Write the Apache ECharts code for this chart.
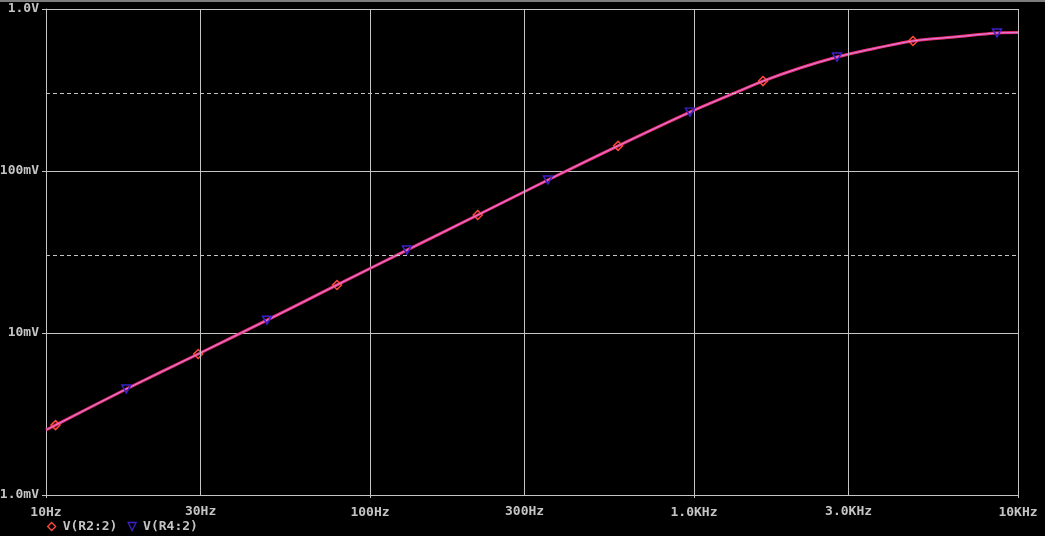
<!DOCTYPE html>
<html>
<head>
<meta charset="utf-8">
<script src="https://cdn.jsdelivr.net/npm/echarts@6/dist/echarts.min.js"></script>
<style>
html,body{margin:0;padding:0;background:#000;}
#chart{width:1045px;height:536px;}
</style>
</head>
<body>
<div id="chart"></div>
<script>
// Frequency (Hz) of the read curve points
const freqs = [10, 10.7, 17.7, 29.5, 48.1, 79.1, 130, 215, 354, 583, 972, 1319, 1633, 2124, 2763, 3420, 4741, 6482, 8615, 10000];
// Voltage (V) of the curve (both traces overlap)
const volts = [0.00252, 0.00270, 0.00451, 0.00742, 0.0120, 0.0198, 0.0325, 0.0535, 0.0880, 0.143, 0.231, 0.300, 0.359, 0.432, 0.505, 0.558, 0.635, 0.674, 0.711, 0.715];
// Which trace draws a marker at each point
const markers = ['', 'R2', 'R4', 'R2', 'R4', 'R2', 'R4', 'R2', 'R4', 'R2', 'R4', '', 'R2', '', 'R4', '', 'R2', '', 'R4', ''];

const seriesNames = ['V(R2:2)', 'V(R4:2)'];
const xTickValues = [10, 30, 100, 300, 1000, 3000, 10000];
const xTickLabels = ['10Hz', '30Hz', '100Hz', '300Hz', '1.0KHz', '3.0KHz', '10KHz'];
const yTickValues = [0.001, 0.01, 0.1, 1];
const yTickLabels = ['1.0mV', '10mV', '100mV', '1.0V'];
const yDashValues = [0.003, 0.03, 0.3];

const GRAY = '#c4c4c4';
const FONT = 'DejaVu Sans Mono';
const FS = 13;
const RED = '#ff4a3a';
const BLUE = '#3a22c8';

function labelFor(values, labels, v) {
  let best = 0, bd = Infinity;
  for (let i = 0; i < values.length; i++) {
    const d = Math.abs(Math.log10(values[i]) - Math.log10(v));
    if (d < bd) { bd = d; best = i; }
  }
  return bd < 0.01 ? labels[best] : '';
}

function buildData(key) {
  return freqs.map((f, i) => {
    const item = { value: [f, volts[i]] };
    if (markers[i] !== key) item.symbol = 'none';
    return item;
  });
}

const xDecades = xTickValues.filter(v => Math.abs(Math.log10(v) - Math.round(Math.log10(v))) > 0.01);

const chart = echarts.init(document.getElementById('chart'), null, { renderer: 'canvas' });
chart.setOption({
  backgroundColor: '#000',
  animation: false,
  graphic: [{ type: 'rect', left: 0, top: 0, shape: { width: 1045, height: 2 }, style: { fill: '#7c7c7c' } }],
  grid: { left: 46, right: 27, top: 9, bottom: 41, containLabel: false, outerBoundsMode: 'none' },
  legend: {
    left: 47, top: 520, padding: 0,
    itemWidth: 8, itemHeight: 8, itemGap: 10,
    textStyle: { color: GRAY, fontFamily: FONT, fontSize: FS, fontWeight: 'bold', padding: [0, 0, 0, 2] },
    data: [
      { name: seriesNames[0], icon: 'diamond', itemStyle: { color: 'rgba(0,0,0,0)', borderColor: RED, borderWidth: 1.3 } },
      { name: seriesNames[1], icon: 'path://M0,0L10,0L5,10Z', itemStyle: { color: 'rgba(0,0,0,0)', borderColor: BLUE, borderWidth: 1.3 } }
    ]
  },
  xAxis: {
    type: 'log', logBase: 10, min: 10, max: 10000,
    axisLine: { show: true, lineStyle: { color: GRAY, width: 1 } },
    axisTick: { show: true, length: 3, lineStyle: { color: GRAY } },
    axisLabel: { color: GRAY, fontFamily: FONT, fontSize: FS, fontWeight: 'bold', margin: 11,
      formatter: v => labelFor(xTickValues, xTickLabels, v) },
    splitLine: { show: true, lineStyle: { color: GRAY, width: 1 } },
    minorTick: { show: false }, minorSplitLine: { show: false }
  },
  yAxis: {
    type: 'log', logBase: 10, min: 0.001, max: 1,
    axisLine: { show: true, lineStyle: { color: GRAY, width: 1 } },
    axisTick: { show: true, length: 4, lineStyle: { color: GRAY } },
    axisLabel: { color: GRAY, fontFamily: FONT, fontSize: FS, fontWeight: 'bold', margin: 7,
      formatter: v => labelFor(yTickValues, yTickLabels, v) },
    splitLine: { show: true, lineStyle: { color: GRAY, width: 1 } }
  },
  series: [
    {
      name: seriesNames[0], type: 'line', smooth: 0.3,
      data: buildData('R2'),
      symbol: 'diamond', symbolSize: 9,
      itemStyle: { color: 'rgba(0,0,0,0)', borderColor: RED, borderWidth: 1.5 },
      lineStyle: { color: '#ee3272', width: 3 },
      z: 3,
      markLine: {
        silent: true, symbol: 'none', animation: false,
        data: xDecades.map(v => ({
          xAxis: v,
          lineStyle: { color: GRAY, width: 1, type: 'solid' },
          label: { show: true, position: 'start', distance: 10, color: GRAY, fontFamily: FONT, fontSize: FS, fontWeight: 'bold',
            formatter: labelFor(xTickValues, xTickLabels, v) }
        })).concat(yDashValues.map(v => ({
          yAxis: v,
          lineStyle: { color: GRAY, width: 1, type: [4, 3] },
          label: { show: false }
        })))
      }
    },
    {
      name: seriesNames[1], type: 'line', smooth: 0.3,
      data: buildData('R4'),
      symbol: 'path://M0,0L10,0L5,10Z', symbolSize: [9, 8],
      itemStyle: { color: 'rgba(0,0,0,0)', borderColor: BLUE, borderWidth: 1.5 },
      lineStyle: { color: '#d884ec', width: 1 },
      z: 4
    }
  ]
});
</script>
</body>
</html>
